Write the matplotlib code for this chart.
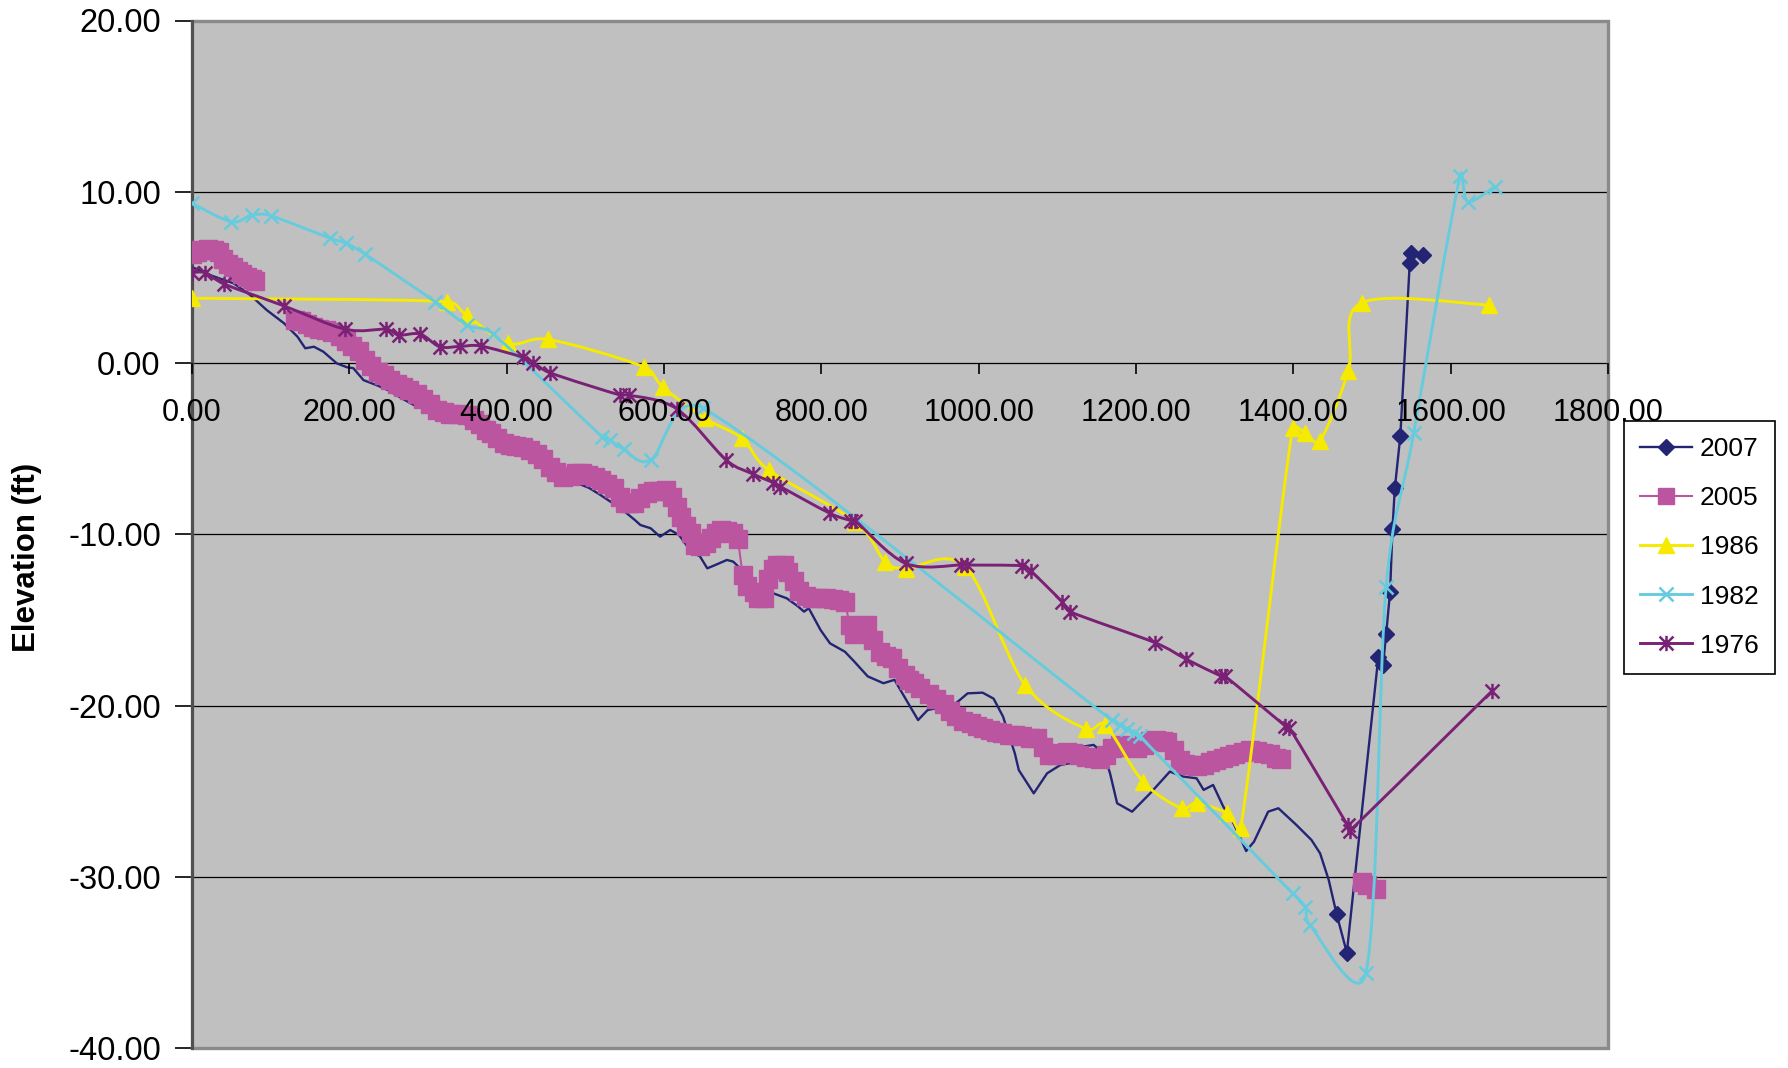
import numpy as np
import matplotlib
matplotlib.use("Agg")
import matplotlib.pyplot as plt
from matplotlib.path import Path
from matplotlib.patches import PathPatch, Rectangle
from matplotlib.lines import Line2D
from matplotlib.ticker import FormatStrFormatter

plt.rcParams['font.family'] = ['Liberation Sans', 'DejaVu Sans']

# ---------------- data ----------------
x2007 = [0, 25, 53, 74, 95, 117, 134, 144, 155, 167, 184, 197, 205, 218, 235, 250, 268, 286, 303, 333,
         360, 385, 410, 435, 455, 468, 489, 505, 519, 532, 548, 563, 570, 583, 595, 608, 619, 633, 646, 655,
         665, 680, 688, 697, 710, 722, 739, 756, 770, 778, 784, 799, 811, 830, 842, 859, 879, 893, 908, 923,
         935, 945, 957, 976, 986, 1005, 1019, 1031, 1046, 1051, 1070, 1087, 1104, 1116, 1121, 1133, 1146, 1159, 1167, 1176,
         1195, 1218, 1243, 1260, 1277, 1286, 1298, 1311, 1322, 1332, 1340, 1350, 1368, 1381, 1404, 1423, 1434, 1445,
         1455, 1468, 1508, 1514, 1518, 1523, 1526, 1529, 1536, 1548, 1549, 1565]
y2007 = [5.6, 5.1, 4.65, 3.97, 3.09, 2.32, 1.54, 0.86, 0.95, 0.66, -0.02, -0.25, -0.3, -1.0, -1.3, -1.6, -2.1, -2.55, -2.78, -3.33,
         -3.8, -4.3, -4.8, -5.2, -5.6, -6.0, -7.0, -7.3, -7.7, -8.1, -8.6, -9.17, -9.46, -9.65, -10.14, -9.75, -10.04, -10.92, -11.31, -11.99,
         -11.8, -11.5, -11.6, -12.0, -12.6, -13.06, -13.45, -13.74, -14.2, -14.52, -14.32, -15.59, -16.37, -16.86, -17.44, -18.3, -18.7, -18.5, -19.68, -20.85,
         -20.27, -20.17, -20.37, -19.68, -19.29, -19.25, -19.6, -20.65, -22.8, -23.77, -25.13, -23.96, -23.47, -23.37, -22.8, -22.4, -22.3, -22.8, -23.96, -25.71,
         -26.2, -25.13, -23.86, -24.15, -24.25, -24.93, -24.64, -25.91, -26.69, -27.66, -28.5, -27.95, -26.2, -26.0, -26.98, -27.85, -28.63, -30.19,
         -32.18, -34.43, -17.19, -17.64, -15.83, -13.36, -9.71, -7.32, -4.26, 5.86, 6.4, 6.31]

nan = float('nan')
x2005 = [0, 6, 12, 20, 28, 34, 40, 46, 52, 58, 64, 70, 76, 80, nan,
         131, 138, 146, 154, 162, 170, 178, 188, 196, 204, 212, 220, 228, 236, 244, 252, 260, 268, 276, 286,
         294, 302, 311, 320, 328, 338, 350, 358, 366, 374, 380, 388, 396, 404, 412, 421, 430, 438, 446, 455,
         463, 472, 480, 488, 496, 504, 512, 520, 528, 536, 544, 550, 556, 562, 570, 578, 586, 594, 602, 610,
         616, 622, 628, 634, 640, 646, 654, 660, 666, 672, 680, 688, 694, 700, 706, 714, 720, 727, 732, 738,
         744, 752, 758, 765, 772, 780, 788, 796, 806, 815, 822, 830, 836, 842, 850, 858, 866, 874, 882, 890,
         898, 906, 912, 918, 926, 937, 946, 956, 964, 971, 980, 990, 998, 1006, 1014, 1022, 1030, 1038, 1046, 1055,
         1065, 1074, 1082, 1090, 1098, 1106, 1112, 1120, 1128, 1137, 1146, 1154, 1162, 1170, 1180, 1190, 1201, 1210,
         1218, 1226, 1234, 1240, 1248, 1256, 1262, 1270, 1278, 1286, 1294, 1302, 1310, 1318, 1326, 1336, 1345, 1354,
         1362, 1370, 1378, 1384, nan, 1487, 1494, 1505]
y2005 = [6.35, 6.5, 6.6, 6.65, 6.6, 6.5, 6.1, 5.8, 5.6, 5.4, 5.2, 5.0, 4.9, 4.8, nan,
         2.5, 2.45, 2.3, 2.1, 2.0, 1.95, 1.8, 1.6, 1.3, 1.0, 0.7, 0.2, -0.2, -0.5, -0.7, -1.0, -1.2, -1.4, -1.6, -1.8,
         -2.1, -2.4, -2.75, -2.85, -2.95, -3.0, -3.05, -3.3, -3.55, -3.9, -4.1, -4.4, -4.7, -4.8, -4.85, -4.9, -5.1, -5.3, -5.6, -6.05,
         -6.35, -6.65, -6.6, -6.45, -6.45, -6.55, -6.65, -6.85, -7.05, -7.3, -7.8, -8.2, -8.2, -8.15, -7.9, -7.6, -7.5, -7.45, -7.4, -7.8,
         -8.4, -9.0, -9.5, -9.9, -10.6, -10.7, -10.5, -10.2, -9.9, -9.75, -9.8, -9.95, -10.3, -12.4, -13.0, -13.35, -13.7, -13.7, -12.6, -12.0,
         -11.8, -11.8, -12.2, -12.75, -13.3, -13.6, -13.7, -13.7, -13.75, -13.8, -13.85, -13.95, -15.3, -15.8, -15.5, -15.3, -16.2, -16.9, -17.1, -17.2,
         -17.8, -18.2, -18.5, -18.7, -19.0, -19.3, -19.6, -19.9, -20.3, -20.6, -20.9, -21.0, -21.2, -21.3, -21.45, -21.55, -21.6, -21.7, -21.75, -21.8,
         -21.9, -21.9, -22.4, -22.9, -22.9, -22.75, -22.7, -22.8, -22.9, -23.0, -23.05, -23.1, -22.9, -22.5, -22.3, -22.4, -22.5, -22.3,
         -22.1, -22.0, -22.05, -22.15, -22.6, -23.2, -23.4, -23.5, -23.55, -23.45, -23.3, -23.2, -23.05, -22.95, -22.85, -22.7, -22.6, -22.65,
         -22.75, -22.85, -23.05, -23.1, nan, -30.3, -30.5, -30.7]

x1986 = [0, 324, 349, 402, 453, 574, 599, 652, 699, 733, 843, 881, 907, 983, 1059, 1137, 1161, 1209,
         1258, 1277, 1316, 1333, 1399, 1415, 1434, 1470, 1487, 1649]
y1986 = [3.78, 3.58, 2.8, 1.15, 1.38, -0.22, -1.42, -3.23, -4.4, -6.25, -9.27, -11.6, -12.0, -11.9, -18.8, -21.39, -21.14, -24.45,
         -26.0, -25.71, -26.3, -27.17, -3.81, -4.07, -4.54, -0.45, 3.52, 3.39]

x1982 = [0, 50, 76, 100, 176, 196, 220, 309, 349, 383, 521, 531, 549, 583, 650, 1169, 1180, 1188, 1197, 1205,
         1399, 1415, 1421, 1492, 1518, 1553, 1612, 1622, 1656]
y1982 = [9.33, 8.25, 8.64, 8.6, 7.28, 6.99, 6.36, 3.58, 2.22, 1.69, -4.3, -4.5, -5.04, -5.66, -2.65, -20.85, -21.14, -21.4, -21.6, -21.8,
         -30.97, -31.75, -32.82, -35.64, -13.06, -4.1, 10.92, 9.42, 10.3]

x1976 = [0, 17, 41, 117, 195, 247, 263, 290, 315, 341, 367, 421, 434, 455, 544, 555, 616, 679, 713, 739,
         748, 811, 838, 843, 907, 977, 985, 1055, 1066, 1106, 1116, 1224, 1264, 1308, 1313, 1390, 1395, 1469, 1472, 1653]
y1976 = [5.27, 5.27, 4.61, 3.33, 1.97, 1.97, 1.63, 1.69, 0.95, 0.97, 0.99, 0.33, 0.02, -0.57, -1.87, -1.87, -2.67, -5.66, -6.48, -6.99,
         -7.22, -8.78, -9.2, -9.2, -11.7, -11.8, -11.8, -11.84, -12.13, -13.94, -14.52, -16.33, -17.3, -18.28, -18.28, -21.2, -21.3, -27.0, -27.3, -19.13]

labels = ['2007', '2005', '1986', '1982', '1976']
x_ticks = np.arange(0, 1801, 200)
y_ticks = np.arange(-40, 21, 10)

# ---------------- styles ----------------
C2007 = '#242474'
C2005 = '#BB55A0'
C1986 = '#F5EA00'
C1982 = '#66CCDD'
C1976 = '#7A2176'
STAR = Path([(-1, -1), (1, 1), (-1, 1), (1, -1), (0, -1.1), (0, 1.1)],
            [Path.MOVETO, Path.LINETO, Path.MOVETO, Path.LINETO, Path.MOVETO, Path.LINETO])

W, H, DPI = 1788, 1068, 100
fig = plt.figure(figsize=(W / DPI, H / DPI), dpi=DPI)
pos = [192 / W, 1 - 1048 / H, (1608 - 192) / W, (1048 - 20.5) / H]
ax = fig.add_axes(pos)
ax.set_xlim(0, 1800)
ax.set_ylim(-40, 20)
ax.set_facecolor('#C0C0C0')


def smooth_path(xs, ys, limit=0.5):
    """Excel-like smoothed line (Catmull-Rom Bezier) computed in display space."""
    pts = ax.transData.transform(np.column_stack([xs, ys]))
    n = len(pts)
    verts = [pts[0]]
    codes = [Path.MOVETO]
    for i in range(n - 1):
        p0 = pts[max(i - 1, 0)]
        p1 = pts[i]
        p2 = pts[i + 1]
        p3 = pts[min(i + 2, n - 1)]
        chord = np.hypot(*(p2 - p1))
        a1 = (p2 - p0) / 6.0
        a2 = (p3 - p1) / 6.0
        l1 = np.hypot(*a1)
        l2 = np.hypot(*a2)
        if l1 > limit * chord and l1 > 0:
            a1 = a1 * limit * chord / l1
        if l2 > limit * chord and l2 > 0:
            a2 = a2 * limit * chord / l2
        verts += [p1 + a1, p2 - a2, p2]
        codes += [Path.CURVE4] * 3
    verts = ax.transData.inverted().transform(np.array(verts))
    return Path(verts, codes)


# gridlines
ax.set_yticks(y_ticks)
ax.set_xticks(x_ticks)
ax.yaxis.grid(True, color='black', lw=0.9)
ax.xaxis.grid(False)
ax.set_axisbelow(True)

# 2007
xa = np.array(x2007, float)
ya = np.array(y2007, float)
first_mark = int(np.argmax(xa >= 1450))
ax.plot(xa, ya, color=C2007, lw=1.7, zorder=3, marker='D', ms=8.5,
        markevery=list(range(first_mark, len(xa))), mec=C2007, mfc=C2007)

# 2005
ax.plot(x2005, y2005, color=C2005, lw=1.5, marker='s', ms=13, mec=C2005, mfc=C2005, zorder=4)

# 1986
ax.add_patch(PathPatch(smooth_path(x1986, y1986), fill=False, ec=C1986, lw=2.1, zorder=5))
ax.plot(x1986, y1986, ls='none', marker='^', ms=11, color=C1986, zorder=5)

# 1982
ax.add_patch(PathPatch(smooth_path(x1982, y1982), fill=False, ec=C1982, lw=2.1, zorder=6))
ax.plot(x1982, y1982, ls='none', marker='x', ms=10, mew=1.8, color=C1982, zorder=6)

# 1976
ax.add_patch(PathPatch(smooth_path(x1976, y1976), fill=False, ec=C1976, lw=2.1, zorder=7))
ax.plot(x1976, y1976, ls='none', marker=STAR, ms=11, mew=1.8, color=C1976, zorder=7)

# y axis styling
ax.yaxis.set_major_formatter(FormatStrFormatter('%.2f'))
ax.tick_params(axis='y', direction='out', length=12, width=1.2, colors='black',
               labelsize=23.5, pad=10.5)
ax.tick_params(axis='x', bottom=False, labelbottom=False)
for s in ['top', 'right', 'bottom']:
    ax.spines[s].set_visible(False)
ax.spines['left'].set_color('#505050')
ax.spines['left'].set_linewidth(2.2)
ax.add_patch(Rectangle((0, 0), 1, 1, transform=ax.transAxes, fill=False,
                       ec='#8A8A8A', lw=2.4, clip_on=False, zorder=1))

# overlay axes for the x axis at y = 0 (drawn above the data)
ax2 = fig.add_axes(pos, sharex=ax, frameon=False)
ax2.set_ylim(ax.get_ylim())
ax2.patch.set_visible(False)
for s in ['top', 'right', 'left']:
    ax2.spines[s].set_visible(False)
ax2.spines['bottom'].set_visible(True)
ax2.spines['bottom'].set_position(('data', 0))
ax2.spines['bottom'].set_color('black')
ax2.spines['bottom'].set_linewidth(1.2)
ax2.set_yticks([])
ax2.set_xticks(x_ticks)
ax2.xaxis.set_major_formatter(FormatStrFormatter('%.2f'))
ax2.tick_params(axis='x', direction='out', length=8, width=1.2, colors='black',
                labelsize=22, pad=17)

# y label
fig.text(27 / W, 1 - 557 / H, 'Elevation (ft)', rotation=90, ha='center', va='center',
         fontsize=22.5, fontweight='bold')

# legend
handles = [
    Line2D([], [], color=C2007, lw=1.7, marker='D', ms=8.5),
    Line2D([], [], color=C2005, lw=1.5, marker='s', ms=11),
    Line2D([], [], color=C1986, lw=2.1, marker='^', ms=11),
    Line2D([], [], color=C1982, lw=2.1, marker='x', ms=10, mew=1.8),
    Line2D([], [], color=C1976, lw=2.1, marker=STAR, ms=11, mew=1.8),
]
leg = fig.legend(handles, labels, loc='upper left', bbox_to_anchor=(1624 / W, 1 - 421 / H),
                 borderaxespad=0, frameon=True, fancybox=False, edgecolor='black',
                 facecolor='white', fontsize=19, handlelength=1.95, handletextpad=0.3,
                 borderpad=0.62, labelspacing=0.95, framealpha=1)
leg.get_frame().set_linewidth(1.2)

fig.savefig('out.png', dpi=DPI, facecolor='white')
